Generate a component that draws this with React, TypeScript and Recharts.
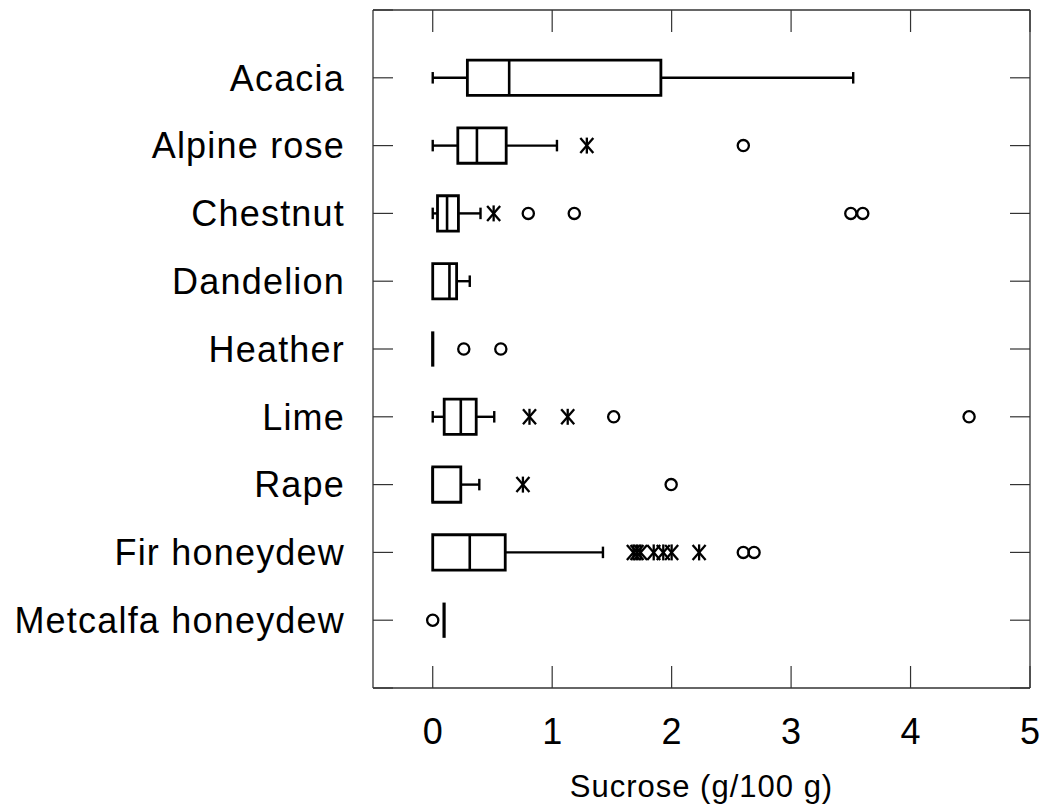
import React from 'react';
import {
  ComposedChart,
  XAxis,
  YAxis,
  Scatter,
  ReferenceArea,
  ReferenceLine,
} from 'recharts';

// ---------- data ----------
const categories = [
  'Acacia',
  'Alpine rose',
  'Chestnut',
  'Dandelion',
  'Heather',
  'Lime',
  'Rape',
  'Fir honeydew',
  'Metcalfa honeydew',
];
const whiskerLow = [0, 0, 0, 0, 0, 0, 0, 0, 0.095];
const q1 = [0.29, 0.21, 0.04, 0, 0, 0.096, 0, 0, 0.095];
const median = [0.64, 0.37, 0.12, 0.14, 0, 0.235, 0, 0.31, 0.095];
const q3 = [1.91, 0.615, 0.215, 0.2, 0, 0.364, 0.235, 0.607, 0.095];
const whiskerHigh = [3.52, 1.04, 0.4, 0.31, 0, 0.515, 0.39, 1.425, 0.095];

// outliers: [category, value]
const circleOutliers: [string, number][] = [
  ['Alpine rose', 2.6],
  ['Chestnut', 0.8],
  ['Chestnut', 1.185],
  ['Chestnut', 3.5],
  ['Chestnut', 3.6],
  ['Heather', 0.26],
  ['Heather', 0.57],
  ['Lime', 1.515],
  ['Lime', 4.49],
  ['Rape', 1.996],
  ['Fir honeydew', 2.6],
  ['Fir honeydew', 2.69],
  ['Metcalfa honeydew', 0.0],
];
const starOutliers: [string, number][] = [
  ['Alpine rose', 1.29],
  ['Chestnut', 0.51],
  ['Lime', 0.81],
  ['Lime', 1.13],
  ['Rape', 0.755],
  ['Fir honeydew', 1.68],
  ['Fir honeydew', 1.71],
  ['Fir honeydew', 1.74],
  ['Fir honeydew', 1.85],
  ['Fir honeydew', 1.93],
  ['Fir honeydew', 2.0],
  ['Fir honeydew', 2.23],
];

const xTicks = [0, 1, 2, 3, 4, 5];
const xDomain: [number, number] = [-0.5, 5];
const yDomain: [number, number] = [0, categories.length + 1];
const yTicks = Array.from({ length: categories.length + 2 }, (_, i) => i);

// ---------- styling ----------
const FONT = '"Liberation Sans", Arial, sans-serif';
const BOX_HALF = 0.26;
const CAP_HALF = 0.085;
const FRAME = '#333';
const LINE_W = 2.4;

const pos = (cat: string) => categories.indexOf(cat) + 1;
const circleData = circleOutliers.map(([c, v]) => ({ x: v, y: pos(c) }));
const starData = starOutliers.map(([c, v]) => ({ x: v, y: pos(c) }));

const CircleShape = (props: any) => {
  const { cx, cy } = props;
  if (cx == null || cy == null) return null;
  return <circle cx={cx} cy={cy} r={5.6} fill="none" stroke="#000" strokeWidth={2.3} />;
};

const StarShape = (props: any) => {
  const { cx, cy } = props;
  if (cx == null || cy == null) return null;
  return (
    <g stroke="#000" strokeWidth={2.3} fill="none">
      <line x1={cx} y1={cy - 8} x2={cx} y2={cy + 8} />
      <line x1={cx - 6.5} y1={cy - 7.5} x2={cx + 6.5} y2={cy + 7.5} />
      <line x1={cx - 6.5} y1={cy + 7.5} x2={cx + 6.5} y2={cy - 7.5} />
    </g>
  );
};

const blank = () => '';

export default function App() {
  const boxes: React.ReactNode[] = [];
  categories.forEach((cat, i) => {
    const y = i + 1;
    const lo = whiskerLow[i];
    const hi = whiskerHigh[i];
    if (lo < q1[i]) {
      boxes.push(
        <ReferenceLine
          key={`wl${i}`}
          segment={[{ x: lo, y }, { x: q1[i], y }]}
          stroke="#000"
          strokeWidth={LINE_W}
        />,
        <ReferenceLine
          key={`cl${i}`}
          segment={[{ x: lo, y: y - CAP_HALF }, { x: lo, y: y + CAP_HALF }]}
          stroke="#000"
          strokeWidth={LINE_W}
        />
      );
    }
    if (hi > q3[i]) {
      boxes.push(
        <ReferenceLine
          key={`wh${i}`}
          segment={[{ x: q3[i], y }, { x: hi, y }]}
          stroke="#000"
          strokeWidth={LINE_W}
        />,
        <ReferenceLine
          key={`ch${i}`}
          segment={[{ x: hi, y: y - CAP_HALF }, { x: hi, y: y + CAP_HALF }]}
          stroke="#000"
          strokeWidth={LINE_W}
        />
      );
    }
    if (q3[i] > q1[i]) {
      boxes.push(
        <ReferenceArea
          key={`b${i}`}
          x1={q1[i]}
          x2={q3[i]}
          y1={y - BOX_HALF}
          y2={y + BOX_HALF}
          fill="none"
          fillOpacity={0}
          stroke="#000"
          strokeWidth={2.8}
        />
      );
    }
    boxes.push(
      <ReferenceLine
        key={`m${i}`}
        segment={[{ x: median[i], y: y - BOX_HALF }, { x: median[i], y: y + BOX_HALF }]}
        stroke="#000"
        strokeWidth={q3[i] > q1[i] ? 2.6 : 3.2}
      />
    );
  });

  return (
    <div style={{ position: 'absolute', left: 0, top: 0, background: '#fff' }}>
      <ComposedChart
        width={1049}
        height={811}
        margin={{ top: 9, right: 18, bottom: 0, left: 0 }}
      >
        <XAxis
          xAxisId={0}
          type="number"
          dataKey="x"
          domain={xDomain}
          ticks={xTicks}
          interval={0}
          allowDataOverflow
          height={123}
          tickSize={-22}
          tickMargin={52}
          axisLine={{ stroke: FRAME, strokeWidth: 1.3 }}
          tickLine={{ stroke: FRAME, strokeWidth: 1.2 }}
          tick={{ fontSize: 36, fill: '#000', fontFamily: FONT }}
          label={{
            value: 'Sucrose (g/100 g)',
            position: 'insideBottom',
            offset: 14,
            fontSize: 31,
            fill: '#000',
            fontFamily: FONT,
            letterSpacing: 1,
          }}
        />
        <XAxis
          xAxisId="t"
          orientation="top"
          type="number"
          dataKey="x"
          domain={xDomain}
          ticks={xTicks}
          interval={0}
          allowDataOverflow
          height={1}
          tickSize={-22}
          tickFormatter={blank}
          tick={{ fontSize: 1, fill: 'none' }}
          axisLine={{ stroke: FRAME, strokeWidth: 1.3 }}
          tickLine={{ stroke: FRAME, strokeWidth: 1.2 }}
        />
        <YAxis
          yAxisId={0}
          type="number"
          dataKey="y"
          domain={yDomain}
          ticks={yTicks}
          interval={0}
          reversed
          allowDataOverflow
          width={373}
          tickSize={-20}
          tickMargin={48}
          tickFormatter={(v: number) => categories[v - 1] ?? ''}
          axisLine={{ stroke: FRAME, strokeWidth: 1.3 }}
          tickLine={{ stroke: FRAME, strokeWidth: 1.2 }}
          tick={{ fontSize: 36, fill: '#000', fontFamily: FONT, letterSpacing: 1.2 }}
        />
        <YAxis
          yAxisId="r"
          orientation="right"
          type="number"
          dataKey="y"
          domain={yDomain}
          ticks={yTicks}
          interval={0}
          reversed
          allowDataOverflow
          width={1}
          tickSize={-20}
          tickFormatter={blank}
          tick={{ fontSize: 1, fill: 'none' }}
          axisLine={{ stroke: FRAME, strokeWidth: 1.3 }}
          tickLine={{ stroke: FRAME, strokeWidth: 1.2 }}
        />
        {boxes}
        <Scatter
          data={circleData}
          dataKey="y"
          shape={CircleShape}
          isAnimationActive={false}
        />
        <Scatter
          data={starData}
          dataKey="y"
          shape={StarShape}
          isAnimationActive={false}
        />
      </ComposedChart>
    </div>
  );
}
